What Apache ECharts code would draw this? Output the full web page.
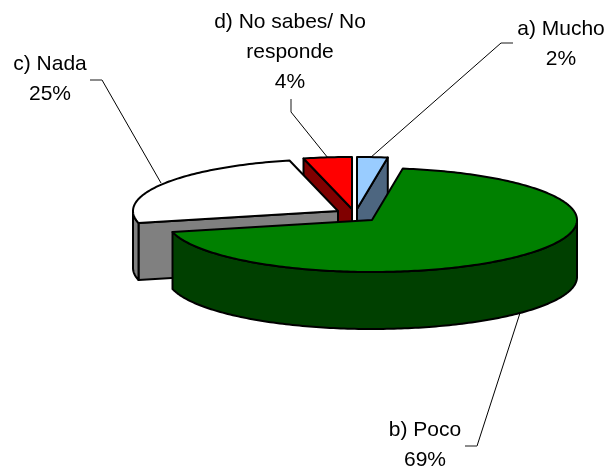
<!DOCTYPE html>
<html>
<head>
<meta charset="utf-8">
<style>html,body{margin:0;padding:0;background:#fff}#c{width:608px;height:474px}</style>
<script src="https://cdn.jsdelivr.net/npm/echarts@6/dist/echarts.min.js"></script>
</head>
<body>
<div id="c"></div>
<script>
// Data
const categories = ['a) Mucho', 'b) Poco', 'c) Nada', 'd) No sabes/ No\nresponde'];
const values = [2.4, 68.9, 24.9, 3.8];

// Layout and style (per slice, same order as categories)
const topColors = ['#99CCFF', '#008000', '#FFFFFF', '#FF0000'];
const sideColors = ['#4D6680', '#004000', '#808080', '#800000'];
const centers = [[357, 209], [372, 220], [338, 211], [352, 209]];
const labelPos = [[561, 44], [425, 445], [50, 79], [290, 52]];
const leaders = [
  [[513, 43], [501, 43], [370, 158]],
  [[465, 446], [477, 446], [520, 313]],
  [[90, 80], [102, 80], [161, 183]],
  [[291, 99], [291, 112], [328, 158]]
];
const drawOrder = [3, 0, 2, 1];
const RX = 205, RY = 52, DEPTH = 57;
const total = values.reduce((a, b) => a + b, 0);

const rad = d => d * Math.PI / 180;
function rim(c, t, dy) {
  return [c[0] + RX * Math.sin(rad(t)), c[1] - RY * Math.cos(rad(t)) + (dy || 0)];
}
function arc(c, a, b, dy) {
  const n = Math.max(2, Math.ceil(Math.abs(b - a)));
  const pts = [];
  for (let i = 0; i <= n; i++) pts.push(rim(c, a + (b - a) * i / n, dy));
  return pts;
}
const line = { stroke: '#000', lineWidth: 2, lineJoin: 'round' };

function renderItem(params, api) {
  const idx = api.value(0);
  let s = 0;
  for (let i = 0; i < idx; i++) s += values[i] / total * 360;
  const e = s + api.value(1) / total * 360;
  const c = centers[idx];
  const children = [];
  const poly = (points, fill) => children.push({
    type: 'polygon', shape: { points }, style: Object.assign({ fill }, line)
  });
  const side = sideColors[idx];
  // cut faces that look toward the viewer
  [[s, Math.sin(rad(s)) < -1e-6], [e, Math.sin(rad(e)) > 1e-6]].forEach(([t, vis]) => {
    if (!vis) return;
    const r = rim(c, t);
    poly([c, r, [r[0], r[1] + DEPTH], [c[0], c[1] + DEPTH]], side);
  });
  // outer wall on the front half of the rim
  const wa = Math.max(s, 90), wb = Math.min(e, 270);
  if (wb > wa) poly(arc(c, wa, wb).concat(arc(c, wb, wa, DEPTH)), side);
  // top face
  poly([c].concat(arc(c, s, e)), topColors[idx]);
  return { type: 'group', children };
}

const chart = echarts.init(document.getElementById('c'), null, { renderer: 'canvas' });
chart.setOption({
  animation: false,
  backgroundColor: '#fff',
  series: [
    {
      type: 'custom',
      coordinateSystem: 'none',
      renderItem,
      silent: true,
      data: drawOrder.map(i => [i, values[i]])
    },
    {
      type: 'custom',
      coordinateSystem: 'none',
      silent: true,
      z: 5,
      data: categories.map((_, i) => [i, values[i]]),
      renderItem(params, api) {
        const i = api.value(0);
        const l = leaders[i];
        return {
          type: 'group',
          children: [
            { type: 'polyline', shape: { points: [l[1], l[2]] }, style: { stroke: '#000', lineWidth: 1, fill: null } },
            { type: 'polyline', shape: { points: [l[0], l[1]] }, style: { stroke: '#666', lineWidth: 1.5, fill: null } },
            {
              type: 'text', x: labelPos[i][0], y: labelPos[i][1],
              style: {
                text: categories[i] + '\n' + Math.round(api.value(1)) + '%',
                fill: '#000', align: 'center', verticalAlign: 'middle',
                font: '21px "Liberation Sans", Arial, sans-serif', lineHeight: 30
              }
            }
          ]
        };
      }
    }
  ]
});
</script>
</body>
</html>
